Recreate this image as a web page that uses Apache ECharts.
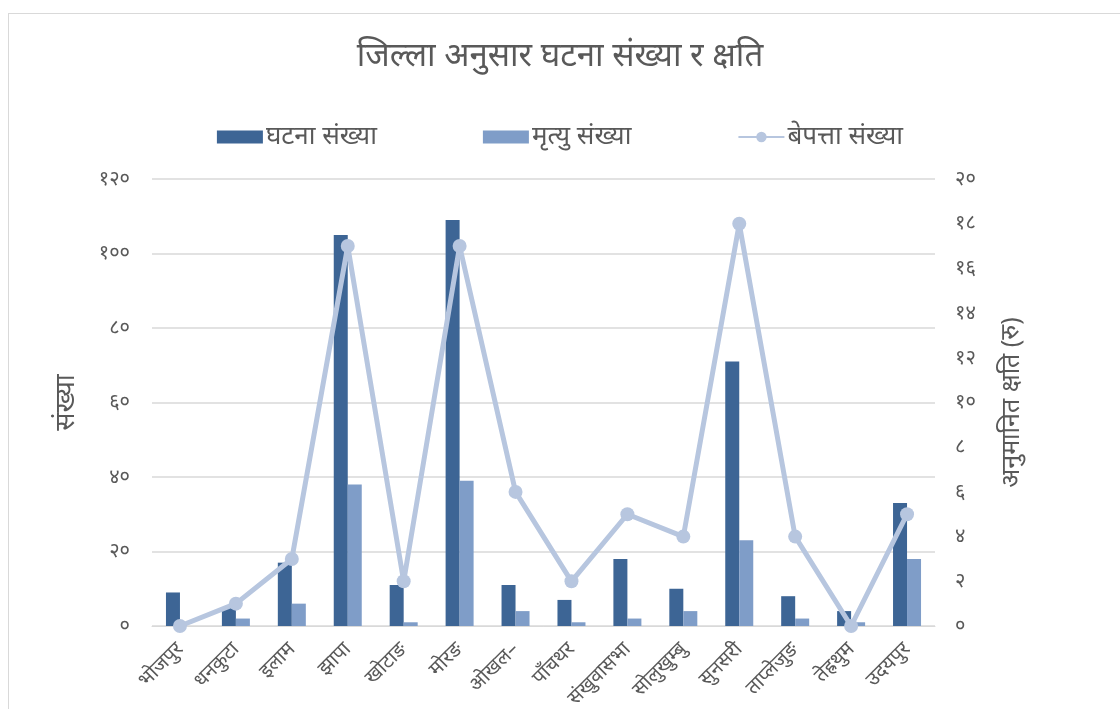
<!DOCTYPE html>
<html><head><meta charset="utf-8">
<script src="https://cdn.jsdelivr.net/npm/echarts@6/dist/echarts.min.js"></script>
<style>
html,body{margin:0;padding:0;background:#fff;}
#frame{position:absolute;left:8px;top:13px;width:1130px;height:720px;border:1px solid #d9d9d9;box-sizing:border-box;}
#c{position:absolute;left:0;top:0;width:1120px;height:709px;}
</style></head>
<body><div id="frame"></div><div id="c"></div>
<script>
const categories = ['भोजपुर','धनकुटा','इलाम','झापा','खोटाङ','मोरङ','ओखल–','पाँचथर','संखुवासभा','सोलुखुम्बु','सुनसरी','ताप्लेजुङ','तेह्रथुम','उदयपुर'];
const incidents = [9, 5, 17, 105, 11, 109, 11, 7, 18, 10, 71, 8, 4, 33];
const deaths = [0, 2, 6, 38, 1, 39, 4, 1, 2, 4, 23, 2, 1, 18];
const missing = [0, 1, 3, 17, 2, 17, 6, 2, 5, 4, 18, 4, 0, 5];
const leftTicks = 20, rightTicks = 2;
const seriesNames = ['घटना संख्या','मृत्यु संख्या','बेपत्ता संख्या'];
const devDigits = '०१२३४५६७८९';
function toDev(n){ return String(n).replace(/[0-9]/g, d => devDigits[+d]); }
const FONT = "'Noto Sans', sans-serif";
const TXT = '#595959';
const chart = echarts.init(document.getElementById('c'));
chart.setOption({
  backgroundColor: 'transparent',
  animation: false,
  textStyle: {fontFamily: FONT},
  title: {text: 'जिल्ला अनुसार घटना संख्या र क्षति', left: 'center', top: 35,
    textStyle: {fontFamily: FONT, fontSize: 33, fontWeight: 'normal', color: TXT}},
  legend: {top: 119, left: 'center', itemGap: 106, itemWidth: 46, itemHeight: 13,
    textStyle: {fontFamily: FONT, fontSize: 26, color: TXT, padding: [0, 0, 0, -2]},
    data: [{name: seriesNames[0], icon: 'rect'}, {name: seriesNames[1], icon: 'rect'}, {name: seriesNames[2]}]},
  grid: {left: 152, right: 185, top: 179, bottom: 83, containLabel: false, outerBoundsMode: 'none'},
  xAxis: {type: 'category', data: categories,
    axisLine: {lineStyle: {color: '#d9d9d9'}}, axisTick: {show: false},
    axisLabel: {rotate: 45, interval: 0, fontSize: 20, color: TXT, fontFamily: FONT, margin: 20}},
  yAxis: [
    {type: 'value', min: 0, max: 120, interval: leftTicks, name: 'संख्या', nameLocation: 'middle', nameGap: 72, nameRotate: 90,
      nameTextStyle: {fontFamily: FONT, fontSize: 27, color: TXT},
      axisLine: {show: false}, axisTick: {show: false},
      axisLabel: {fontSize: 20, color: TXT, margin: 22, formatter: v => toDev(v)},
      splitLine: {lineStyle: {color: '#d9d9d9', width: 1.5}}},
    {type: 'value', min: 0, max: 20, interval: rightTicks, name: 'अनुमानित क्षति (रु)', nameLocation: 'middle', nameGap: 64, nameRotate: 90,
      nameTextStyle: {fontFamily: FONT, fontSize: 25, color: TXT},
      axisLine: {show: false}, axisTick: {show: false},
      axisLabel: {fontSize: 20, color: TXT, margin: 20, formatter: v => toDev(v)},
      splitLine: {show: false}}
  ],
  series: [
    {name: seriesNames[0], type: 'bar', data: incidents, barWidth: 14, barGap: '0%', itemStyle: {color: '#3d6595'}},
    {name: seriesNames[1], type: 'bar', data: deaths, barWidth: 14, barGap: '0%', itemStyle: {color: '#7f9dc8'}},
    {name: seriesNames[2], type: 'line', yAxisIndex: 1, data: missing, symbol: 'circle', symbolSize: 14,
      lineStyle: {color: '#b7c6df', width: 5}, itemStyle: {color: '#b7c6df'}, z: 5}
  ]
});
</script></body></html>
